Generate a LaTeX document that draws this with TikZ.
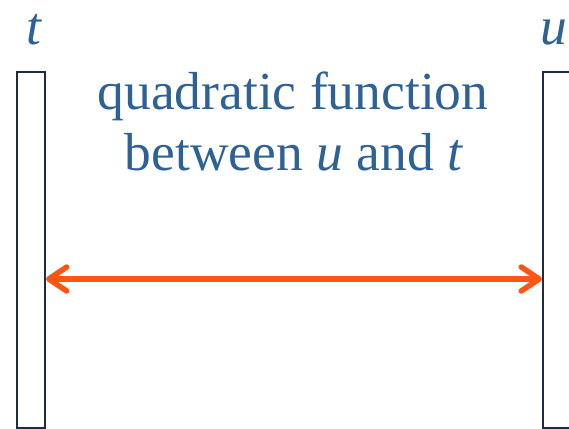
\documentclass[tikz,border=0pt]{standalone}
\usepackage{fontspec}
\setmainfont{Liberation Serif}
\usetikzlibrary{arrows.meta}
\definecolor{txtblue}{RGB}{46,98,150}
\definecolor{arrorange}{RGB}{255,85,20}
\definecolor{barnavy}{RGB}{28,44,66}
\begin{document}
\begin{tikzpicture}[x=1pt,y=-1pt,
  bar/.style={draw=barnavy,line width=2pt},
  lbl/.style={text=txtblue,font=\fontsize{53.5}{64}\selectfont,inner sep=0pt},
  dblarrow/.style={draw=arrorange,line width=5.5pt,
    {Straight Barb[length=18pt,width=24pt,line cap=round,line join=round]}-{Straight Barb[length=18pt,width=24pt,line cap=round,line join=round]}}]
\useasboundingbox (0,0) rectangle (569,428);
\draw[bar] (17,428) -- (17,72) -- (45,72) -- (45,428) -- cycle;
\draw[bar] (580,428) -- (543,428) -- (543,72) -- (580,72);
\coordinate (L) at (46,279);
\coordinate (R) at (542,279);
\node[lbl,anchor=base] (t) at (34,45) {\textit{t}};
\node[lbl,anchor=base west] (u) at (540,45) {\textit{u}};
\node[lbl,anchor=base] (l1) at (293,109) {quadratic function};
\node[lbl,anchor=base] (l2) at (294,170) {between \textit{u} and \textit{t}};
\draw[dblarrow] (L) -- (R);
\end{tikzpicture}
\end{document}
